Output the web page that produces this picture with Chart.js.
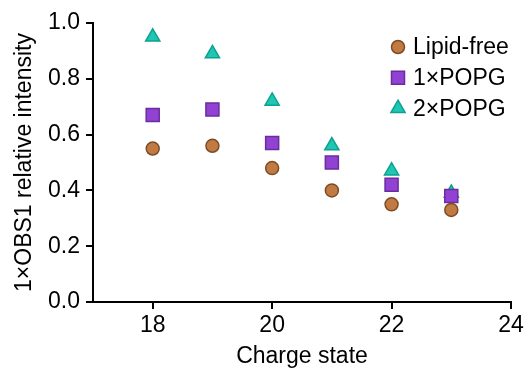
<!DOCTYPE html>
<html>
<head>
<meta charset="utf-8">
<script src="https://cdn.jsdelivr.net/npm/chart.js@4.4.1/dist/chart.umd.min.js"></script>
<style>
  html, body { margin: 0; padding: 0; background: #fff; }
  #wrap { width: 529px; height: 370px; }
</style>
</head>
<body>
<div id="wrap"><canvas id="scatter_chart" width="529" height="370"></canvas></div>
<script>
// charge states and relative intensities
const chargeStates = [18, 19, 20, 21, 22, 23];
const lipidFree = [0.55, 0.56, 0.48, 0.40, 0.35, 0.33];
const popg1x = [0.67, 0.69, 0.57, 0.50, 0.42, 0.38];
const popg2x = [0.95, 0.89, 0.72, 0.56, 0.47, 0.39];
const xTicks = [18, 20, 22, 24];
const yTicks = [0.0, 0.2, 0.4, 0.6, 0.8, 1.0];

const FONT = 'Arial, "Liberation Sans", sans-serif';

function toPoints(values) {
    return values.map((v, i) => ({ x: chargeStates[i], y: v }));
}

const series = [
    { label: 'Lipid-free', data: lipidFree, style: 'circle', radius: 6.5, fill: '#c07a42', border: '#7d4c26' },
    { label: '1\u00d7POPG', data: popg1x, style: 'rect', radius: 9.2, fill: '#9242d2', border: '#6a2d9e' },
    { label: '2\u00d7POPG', data: popg2x, style: 'triangle', radius: 8.2, fill: '#1ec6b4', border: '#10a08e' }
];

// legend drawn by hand at the top right of the plot
const sideLegend = {
    id: 'sideLegend',
    afterDraw(chart) {
        const ctx = chart.ctx;
        ctx.save();
        ctx.font = '23px ' + FONT;
        ctx.textBaseline = 'middle';
        series.forEach((s, i) => {
            const y = 47 + i * 30.7;
            ctx.fillStyle = s.fill;
            ctx.strokeStyle = s.border;
            ctx.lineWidth = 1.5;
            Chart.helpers.drawPoint(ctx, { pointStyle: s.style, radius: s.radius, rotation: 0, borderWidth: 1.5 }, 398, y);
            ctx.fillStyle = '#000';
            ctx.fillText(s.label, 413, y + 1);
        });
        ctx.restore();
    }
};

new Chart(document.getElementById('scatter_chart').getContext('2d'), {
    type: 'scatter',
    data: {
        datasets: series.map(s => ({
            label: s.label,
            data: toPoints(s.data),
            pointStyle: s.style,
            pointRadius: s.radius,
            pointHoverRadius: s.radius,
            backgroundColor: s.fill,
            borderColor: s.border,
            borderWidth: 1.5
        }))
    },
    options: {
        responsive: false,
        animation: false,
        layout: { padding: { left: 0, right: 18, top: 23, bottom: 0 } },
        plugins: {
            legend: { display: false },
            tooltip: { enabled: false }
        },
        scales: {
            x: {
                type: 'linear',
                min: 17,
                max: 24,
                afterBuildTicks(axis) { axis.ticks = xTicks.map(v => ({ value: v })); },
                afterFit(axis) { axis.height = 68; },
                border: { color: '#000', width: 2 },
                grid: { drawOnChartArea: false, drawTicks: true, tickLength: 7, color: '#000', lineWidth: 2 },
                ticks: { color: '#000', font: { family: FONT, size: 23 }, padding: 3 },
                title: { display: true, text: 'Charge state', color: '#000', font: { family: FONT, size: 23 }, padding: { top: 0, bottom: 0 } }
            },
            y: {
                min: 0,
                max: 1.0,
                afterBuildTicks(axis) { axis.ticks = yTicks.map(v => ({ value: v })); },
                afterFit(axis) { axis.width = 93; },
                border: { color: '#000', width: 2 },
                grid: { drawOnChartArea: false, drawTicks: true, tickLength: 7, color: '#000', lineWidth: 2 },
                ticks: { color: '#000', font: { family: FONT, size: 23 }, padding: 6, callback: v => v.toFixed(1) },
                title: { display: true, text: '1\u00d7OBS1 relative intensity', color: '#000', font: { family: FONT, size: 23 }, padding: { top: 11, bottom: 0 } }
            }
        }
    },
    plugins: [sideLegend]
});
</script>
</body>
</html>
